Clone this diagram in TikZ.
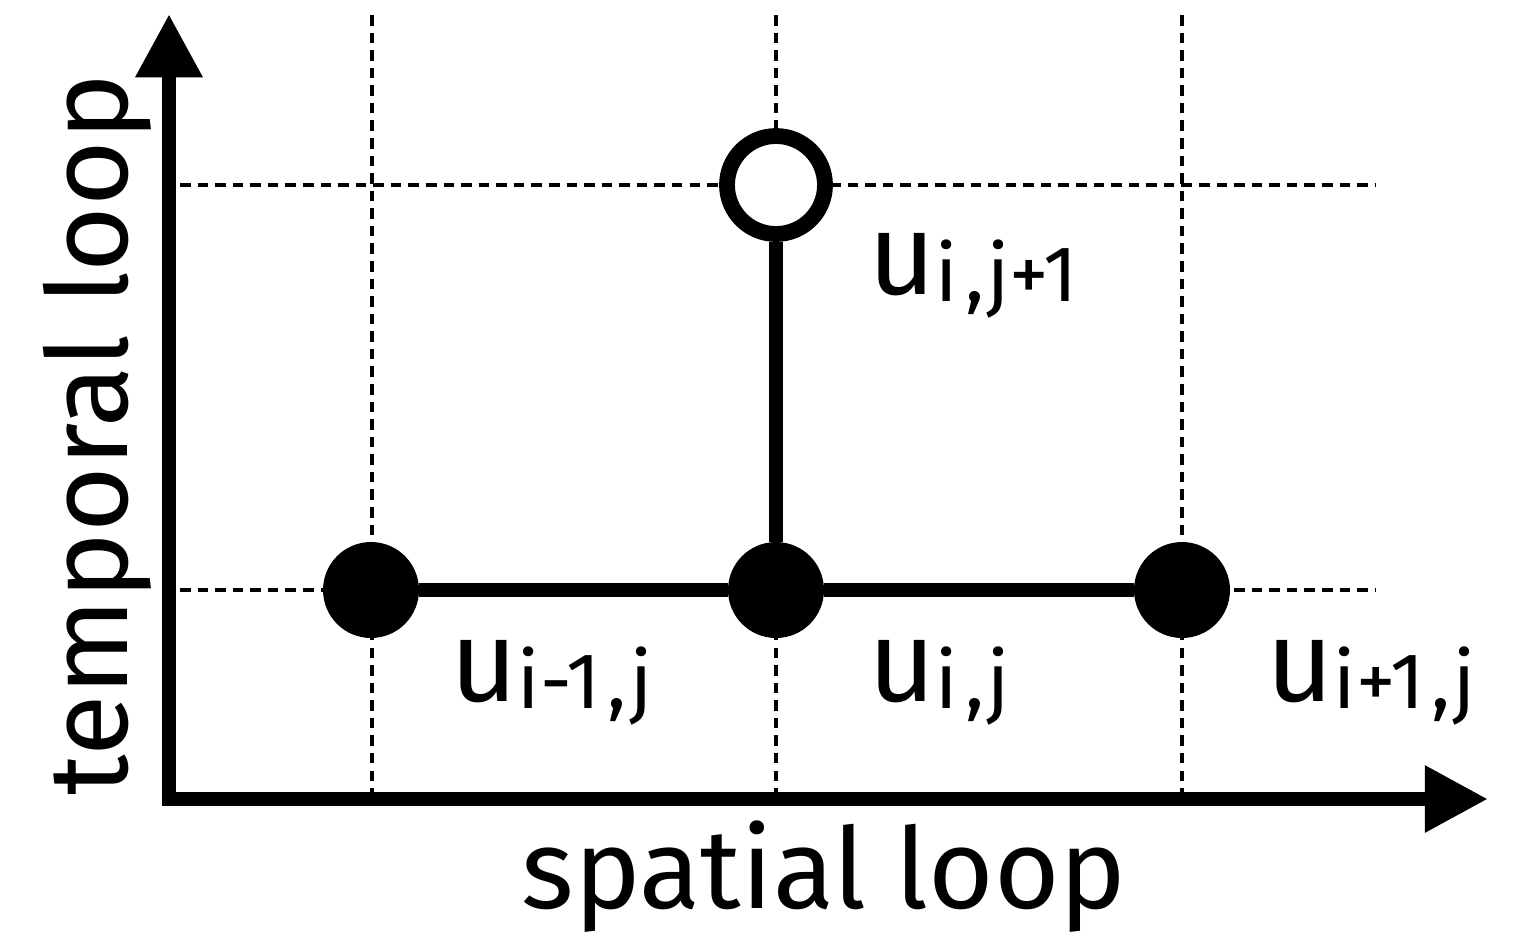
\documentclass[tikz,border=0pt]{standalone}
\usepackage{fontspec}
\setmainfont{Fira Sans}
\usepackage{tikz}
\usetikzlibrary{arrows.meta}
\usetikzlibrary{positioning}

\newcommand{\bigfnt}{\fontsize{64}{70}\selectfont}
\newcommand{\cm}{\kern4pt,\kern2pt}
\newcommand{\ulabel}[1]{{\fontsize{66}{70}\selectfont u}\raisebox{-4.5pt}{\fontsize{45}{48}\selectfont #1}}

\begin{document}
\begin{tikzpicture}[x=0.02cm,y=-0.02cm,
        gridline/.style={dash pattern=on 6pt off 4pt,line width=2.8pt},
        axisline/.style={line width=8.5pt,line join=miter},
        link/.style={line width=8pt},
        dot/.style={circle,fill=black,inner sep=0pt,minimum size=1.92cm},
        opendot/.style={circle,draw=black,fill=white,line width=9pt,inner sep=0pt,minimum size=1.96cm},
        lbl/.style={anchor=base west,inner sep=0pt}]
        \useasboundingbox (0,0) rectangle (1522,938);

        % dashed grid
        \foreach \x in {372,776,1182}
            \draw[gridline] (\x,15) -- (\x,792);
        \foreach \y in {185,590}
            \draw[gridline] (180,\y) -- (1375,\y);

        % axes
        \coordinate (origin) at (169,799);
        \coordinate (ytip) at (169,14);
        \coordinate (xtip) at (1488,799);
        \draw[axisline,{Triangle[length=36pt,width=36pt]}-{Triangle[length=36pt,width=36pt]}]
            (ytip) -- (origin) -- (xtip);

        \node[anchor=base,inner sep=0pt,font=\bigfnt] (xlabel) at (824,908) {spatial loop};
        \node[anchor=base,inner sep=0pt,font=\bigfnt,rotate=90] (ylabel) at (127,435) {temporal loop};

        % stencil points
        \node[dot] (uim1) at (371,590) {};
        \node[dot] (uij) at (776,590) {};
        \node[dot] (uip1) at (1182,590) {};
        \node[opendot] (uijp1) at (776,185) {};

        \draw[link] (uim1) -- (uij);
        \draw[link] (uij) -- (uip1);
        \draw[link] (uij) -- (uijp1);

        \node[lbl] (luim1) at (450,701) {\ulabel{i-1\cm j}};
        \node[lbl] (luij) at (868,701) {\ulabel{i\cm j}};
        \node[lbl] (luip1) at (1266,701) {\ulabel{i+1\cm j}};
        \node[lbl] (luijp1) at (868,294) {\ulabel{i\cm j+1}};
    \end{tikzpicture}
\end{document}
